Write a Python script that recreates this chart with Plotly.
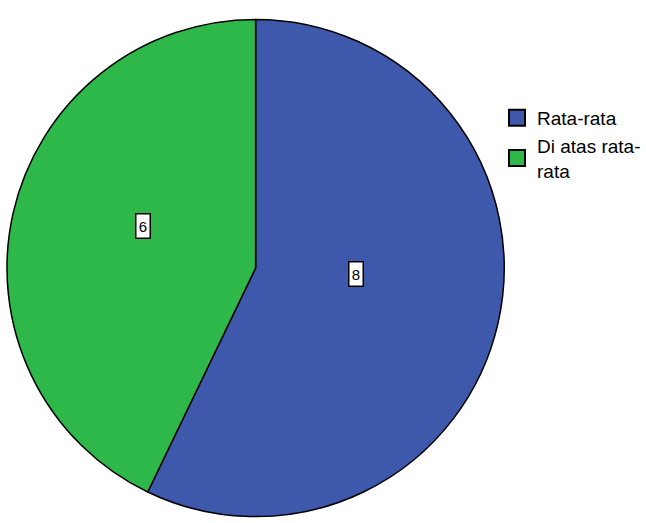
import math
import plotly.graph_objects as go

# Category counts
categories = ["Rata-rata", "Di atas rata-<br>rata"]
counts = [8, 6]
colors = ["#3E58AB", "#2EB84A"]

W, H = 646, 523
cx, cy, r = 256, 268, 249  # pie centre and radius in pixels

fig = go.Figure()
fig.add_trace(go.Pie(
    labels=categories,
    values=counts,
    sort=False,
    direction="clockwise",
    rotation=0,
    textinfo="none",
    hoverinfo="label+value",
    showlegend=False,
    marker=dict(colors=colors, line=dict(color="black", width=1.5)),
    domain=dict(x=[(cx - r) / W, (cx + r) / W],
                y=[(H - cy - r) / H, (H - cy + r) / H]),
))

# Legend entries drawn as large square markers
for name, col in zip(categories, colors):
    fig.add_trace(go.Scatter(
        x=[None], y=[None], mode="markers", name=name,
        marker=dict(symbol="square", size=16, color=col,
                    line=dict(color="black", width=2)),
        hoverinfo="skip",
    ))

# Boxed value labels placed along each slice's mid angle
total = sum(counts)
start = 0.0
for v in counts:
    mid = start + v / total * 360 / 2
    start += v / total * 360
    rad = math.radians(mid)
    px = cx + 0.44 * r * math.sin(rad)
    py = cy - 0.44 * r * math.cos(rad)
    fig.add_annotation(
        x=px / W, y=1 - py / H, xref="paper", yref="paper",
        xanchor="center", yanchor="middle",
        text=str(v), showarrow=False, xshift=-6, yshift=18,
        font=dict(family="Liberation Sans, Arial", size=15, color="black"),
        bgcolor="white", bordercolor="black", borderwidth=1.5,
        borderpad=1, width=11, height=21,
    )

fig.update_layout(
    width=W, height=H,
    margin=dict(l=0, r=0, t=0, b=0),
    paper_bgcolor="white",
    plot_bgcolor="white",
    font=dict(family="Liberation Sans, Arial", size=19, color="black"),
    xaxis=dict(visible=False),
    yaxis=dict(visible=False),
    showlegend=True,
    legend=dict(x=498 / W, y=1 - 99 / H, xanchor="left", yanchor="top",
                bgcolor="rgba(0,0,0,0)", tracegroupgap=0, itemsizing="trace",
                font=dict(size=19)),
)

fig.write_html("out.html")
